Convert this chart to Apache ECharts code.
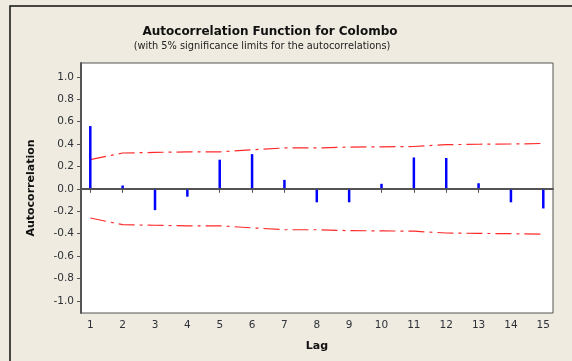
<!DOCTYPE html>
<html>
<head>
<meta charset="utf-8">
<script src="https://cdn.jsdelivr.net/npm/echarts@6/dist/echarts.min.js"></script>
<style>
  html, body { margin: 0; padding: 0; background: #efebe0; }
  #chart { width: 572px; height: 361px; }
</style>
</head>
<body>
<div id="chart"></div>
<script>
// ACF of Colombo series
var lags = [1, 2, 3, 4, 5, 6, 7, 8, 9, 10, 11, 12, 13, 14, 15];
var acf = [0.56, 0.03, -0.19, -0.07, 0.26, 0.31, 0.08, -0.12, -0.12, 0.045, 0.28, 0.275, 0.05, -0.12, -0.175];
var upperLimit = [0.26, 0.32, 0.325, 0.33, 0.33, 0.348, 0.365, 0.365, 0.373, 0.375, 0.378, 0.394, 0.398, 0.4, 0.405];
var yTicks = [-1.0, -0.8, -0.6, -0.4, -0.2, 0.0, 0.2, 0.4, 0.6, 0.8, 1.0];

var font = 'DejaVu Sans';
var labelColor = '#2e3138';

var barData = [], upperData = [], lowerData = [];
for (var i = 0; i < lags.length; i++) {
    barData.push([lags[i], acf[i]]);
    upperData.push([lags[i], upperLimit[i]]);
    lowerData.push([lags[i], -upperLimit[i]]);
}

var limitStyle = {
    color: '#ff2a2a',
    width: 1.2,
    type: [16, 5, 3, 5]
};

var myChart = echarts.init(document.getElementById('chart'));
var option = {
    backgroundColor: '#efebe0',
    animation: false,
    graphic: [
        {
            type: 'rect',
            shape: { x: 10, y: 6, width: 700, height: 500 },
            style: { fill: 'none', stroke: '#111', lineWidth: 1.5 },
            z: -1
        },
        {
            type: 'text',
            x: 270, y: 26,
            style: {
                text: 'Autocorrelation Function for Colombo',
                fontFamily: font, fontWeight: 'bold', fontSize: 12,
                fill: '#111', textAlign: 'center'
            }
        },
        {
            type: 'text',
            x: 262, y: 41,
            style: {
                text: '(with 5% significance limits for the autocorrelations)',
                fontFamily: font, fontSize: 9.8,
                fill: '#222', textAlign: 'center'
            }
        }
    ],
    grid: {
        left: 81, right: 19, top: 63, bottom: 48,
        show: true,
        backgroundColor: '#ffffff',
        borderColor: '#555',
        borderWidth: 1
    },
    xAxis: {
        type: 'value',
        min: 0.713,
        max: 15.3,
        name: 'Lag',
        nameLocation: 'middle',
        nameGap: 28,
        nameTextStyle: { fontFamily: font, fontWeight: 'bold', fontSize: 11, color: '#111' },
        axisLine: { show: true, lineStyle: { color: '#555', width: 2 } },
        axisTick: { show: true, length: 4, customValues: lags, lineStyle: { color: '#555' } },
        axisLabel: {
            customValues: lags,
            margin: 7,
            fontFamily: font, fontSize: 10.5, color: labelColor,
            formatter: function (v) { return String(Math.round(v)); }
        },
        splitLine: { show: false }
    },
    yAxis: {
        type: 'value',
        min: -1.108,
        max: 1.123,
        name: 'Autocorrelation',
        nameLocation: 'middle',
        nameGap: 44,
        nameTextStyle: { fontFamily: font, fontWeight: 'bold', fontSize: 11, color: '#111' },
        axisLine: { show: true, lineStyle: { color: '#555', width: 2 } },
        axisTick: { show: true, length: 4, customValues: yTicks, lineStyle: { color: '#555' } },
        axisLabel: {
            customValues: yTicks,
            margin: 7,
            fontFamily: font, fontSize: 10.5, color: labelColor,
            formatter: function (v) { return (Math.abs(v) < 1e-9 ? 0 : v).toFixed(1); }
        },
        splitLine: { show: false }
    },
    series: [
        {
            name: 'ACF',
            type: 'bar',
            data: barData,
            barWidth: 2.5,
            itemStyle: { color: '#0000ff' },
            z: 3,
            markLine: {
                silent: true,
                symbol: 'none',
                label: { show: false },
                lineStyle: { color: '#555', width: 1.5, type: 'solid' },
                data: [{ yAxis: 0 }],
                z: 4
            }
        },
        {
            name: 'Upper',
            type: 'line',
            data: upperData,
            symbol: 'none',
            lineStyle: limitStyle,
            z: 2
        },
        {
            name: 'Lower',
            type: 'line',
            data: lowerData,
            symbol: 'none',
            lineStyle: limitStyle,
            z: 2
        }
    ]
};
myChart.setOption(option, true);
</script>
</body>
</html>
